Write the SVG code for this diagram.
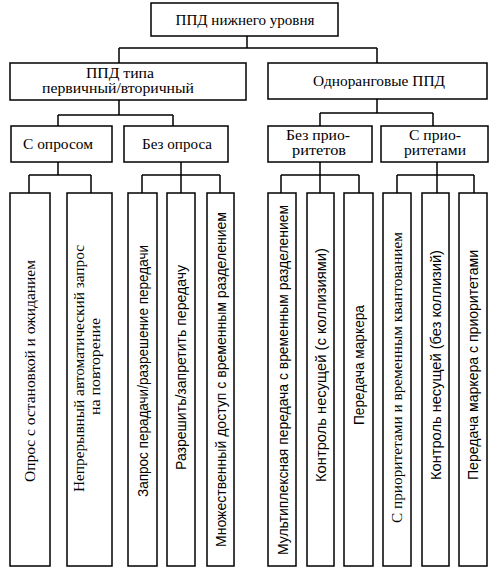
<svg xmlns="http://www.w3.org/2000/svg" width="496" height="572" viewBox="0 0 496 572">
<style>
.box{fill:#fff;stroke:#000;stroke-width:1.5}
.con{fill:none;stroke:#000;stroke-width:1.5}
.t{font-size:15px;fill:#000;text-anchor:middle}
.v{font-size:14px;fill:#000;text-anchor:middle}
.s{font-family:"Liberation Sans Narrow","Liberation Sans",Arial,sans-serif;font-size:15px;fill:#000;text-anchor:middle}
</style>
<rect width="496" height="572" fill="#fff"/>
<g id="connectors">
<path class="con" d="M247,36V48M119,48H377M119,48V63M377,48V63"/>
<path class="con" d="M119,100V115M58,115H173M58,115V126M173,115V126"/>
<path class="con" d="M377,99V113M320,113H433M320,113V126M433,113V126"/>
<path class="con" d="M58,162V175M29,175H91M29,175V193M91,175V193"/>
<path class="con" d="M181,162V175M142,175H220M142,175V193M181,175V193M220,175V193"/>
<path class="con" d="M320,162V175M281,175H359M281,175V193M320,175V193M359,175V193"/>
<path class="con" d="M437,162V175M397,175H474M397,175V193M437,175V193M474,175V193"/>
</g>
<g font-family="Liberation Serif, Times New Roman, DejaVu Serif, serif">
<g id="root"><rect class="box" x="151" y="3" width="187" height="33"/><text class="t" x="245" y="24.5" textLength="139" lengthAdjust="spacingAndGlyphs">ППД нижнего уровня</text></g>
<g id="primary"><rect class="box" x="10" y="63" width="236" height="37"/><text class="t" x="120" y="78" textLength="68" lengthAdjust="spacingAndGlyphs">ППД типа</text><text class="t" x="118" y="93" textLength="152" lengthAdjust="spacingAndGlyphs">первичный/вторичный</text></g>
<g id="peer"><rect class="box" x="268" y="63" width="219" height="36"/><text class="t" x="379" y="85.5" textLength="132" lengthAdjust="spacingAndGlyphs">Одноранговые ППД</text></g>
<g id="poll"><rect class="box" x="11" y="126" width="101" height="36"/><text class="t" x="58" y="149" textLength="70" lengthAdjust="spacingAndGlyphs">С опросом</text></g>
<g id="nopoll"><rect class="box" x="124" y="126" width="104" height="36"/><text class="t" x="177" y="149" textLength="70" lengthAdjust="spacingAndGlyphs">Без опроса</text></g>
<g id="noprio"><rect class="box" x="268" y="126" width="104" height="36"/><text class="t" x="318" y="140" textLength="64" lengthAdjust="spacingAndGlyphs">Без прио-</text><text class="t" x="319" y="155" textLength="54" lengthAdjust="spacingAndGlyphs">ритетов</text></g>
<g id="prio"><rect class="box" x="381" y="126" width="107" height="36"/><text class="t" x="435" y="140" textLength="52" lengthAdjust="spacingAndGlyphs">С прио-</text><text class="t" x="435" y="155" textLength="62" lengthAdjust="spacingAndGlyphs">ритетами</text></g>
<g id="leaf1"><rect class="box" x="10" y="193" width="40" height="373"/><text class="v" transform="translate(35,371) rotate(-90)" textLength="222" lengthAdjust="spacingAndGlyphs">Опрос с остановкой и ожиданием</text></g>
<g id="leaf2"><rect class="box" x="67" y="193" width="45" height="373"/><text class="v" transform="translate(84,368.5) rotate(-90)" textLength="247" lengthAdjust="spacingAndGlyphs">Непрерывный автоматический запрос</text><text class="v" transform="translate(100,366.5) rotate(-90)" textLength="97" lengthAdjust="spacingAndGlyphs">на повторение</text></g>
<g id="leaf9"><rect class="box" x="383" y="193" width="28" height="373"/><text class="v" transform="translate(401.5,377.5) rotate(-90)" textLength="291" lengthAdjust="spacingAndGlyphs">С приоритетами и временным квантованием</text></g>
</g>
<g id="leaf3"><rect class="box" x="128" y="193" width="29" height="373"/><text class="s" transform="translate(147.5,371) rotate(-90)" textLength="252" lengthAdjust="spacingAndGlyphs">Запрос перадачи/разрешение передачи</text></g>
<g id="leaf4"><rect class="box" x="167" y="193" width="28" height="373"/><text class="s" transform="translate(186,367.5) rotate(-90)" textLength="205" lengthAdjust="spacingAndGlyphs">Разрешить/запретить передачу</text></g>
<g id="leaf5"><rect class="box" x="207" y="193" width="27" height="373"/><text class="s" transform="translate(225.5,379.5) rotate(-90)" textLength="335" lengthAdjust="spacingAndGlyphs">Множественный доступ с временным разделением</text></g>
<g id="leaf6"><rect class="box" x="268" y="193" width="28" height="373"/><text class="s" transform="translate(287.5,380) rotate(-90)" textLength="350" lengthAdjust="spacingAndGlyphs">Мультиплексная передача с временным разделением</text></g>
<g id="leaf7"><rect class="box" x="307" y="193" width="27" height="373"/><text class="s" transform="translate(326,365) rotate(-90)" textLength="234" lengthAdjust="spacingAndGlyphs">Контроль несущей (с коллизиями)</text></g>
<g id="leaf8"><rect class="box" x="344" y="193" width="29" height="373"/><text class="s" transform="translate(364,365) rotate(-90)" textLength="120" lengthAdjust="spacingAndGlyphs">Передача маркера</text></g>
<g id="leaf10"><rect class="box" x="422" y="193" width="27" height="373"/><text class="s" transform="translate(441,365) rotate(-90)" textLength="230" lengthAdjust="spacingAndGlyphs">Контроль несущей (без коллизий)</text></g>
<g id="leaf11"><rect class="box" x="459" y="193" width="28" height="373"/><text class="s" transform="translate(478,365) rotate(-90)" textLength="230" lengthAdjust="spacingAndGlyphs">Передача маркера с приоритетами</text></g>
</svg>
